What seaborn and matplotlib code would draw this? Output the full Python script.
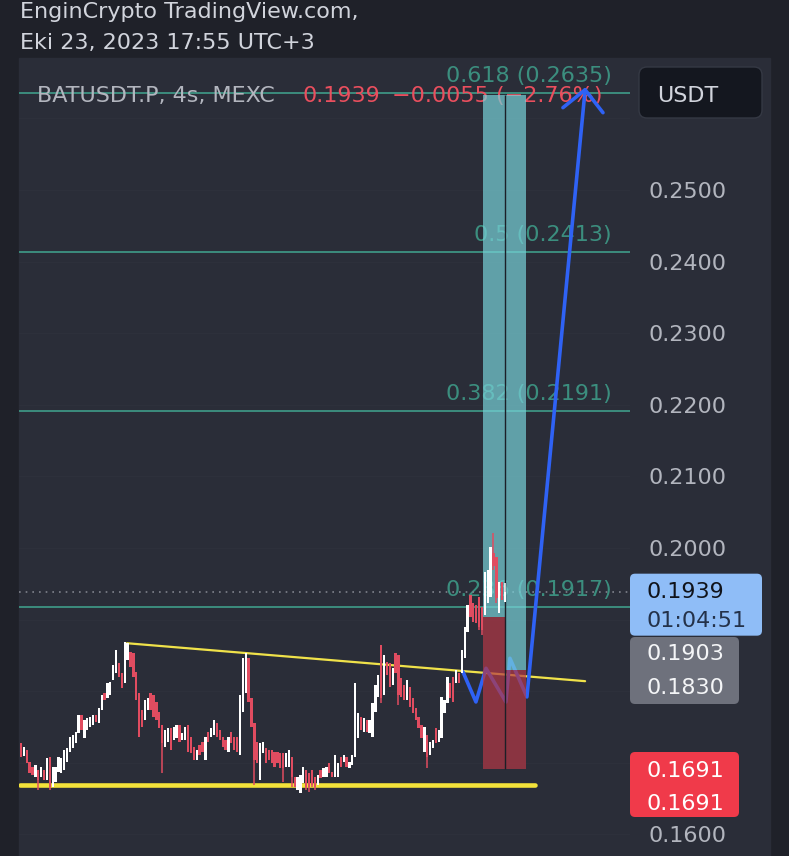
import matplotlib
matplotlib.use("Agg")
import matplotlib.pyplot as plt
from matplotlib.patches import Rectangle, FancyBboxPatch
from matplotlib.transforms import IdentityTransform
import numpy as np
import pandas as pd
import seaborn as sns

W, H, DPI = 789, 856, 100

opens = [0.1728, 0.1710, 0.1718, 0.1701, 0.1694, 0.1680, 0.1690, 0.1680, 0.1690, 0.1676,
         0.1708, 0.1666, 0.1673, 0.1687, 0.1686, 0.1690, 0.1701, 0.1715, 0.1721, 0.1728,
         0.1742, 0.1767, 0.1735, 0.1746, 0.1750, 0.1753, 0.1767, 0.1756, 0.1774, 0.1797,
         0.1791, 0.1795, 0.1816, 0.1825, 0.1839, 0.1825, 0.1811, 0.1844, 0.1855, 0.1853,
         0.1827, 0.1797, 0.1774, 0.1760, 0.1774, 0.1798, 0.1795, 0.1785, 0.1771, 0.1753,
         0.1722, 0.1729, 0.1749, 0.1732, 0.1735, 0.1753, 0.1732, 0.1732, 0.1753, 0.1736,
         0.1722, 0.1704, 0.1725, 0.1729, 0.1704, 0.1743, 0.1736, 0.1739, 0.1756, 0.1746,
         0.1736, 0.1732, 0.1715, 0.1743, 0.1736, 0.1736, 0.1711, 0.1771, 0.1797, 0.1846,
         0.1791, 0.1756, 0.1729, 0.1676, 0.1714, 0.1721, 0.1718, 0.1718, 0.1715, 0.1715,
         0.1714, 0.1714, 0.1694, 0.1694, 0.1708, 0.1680, 0.1662, 0.1658, 0.1672, 0.1690,
         0.1686, 0.1690, 0.1680, 0.1669, 0.1690, 0.1680, 0.1680, 0.1700, 0.1687, 0.1680,
         0.1680, 0.1708, 0.1701, 0.1708, 0.1693, 0.1697, 0.1708, 0.1735, 0.1764, 0.1743,
         0.1760, 0.1742, 0.1736, 0.1771, 0.1792, 0.1865, 0.1795, 0.1841, 0.1839, 0.1809,
         0.1853, 0.1851, 0.1818, 0.1809, 0.1788, 0.1806, 0.1791, 0.1777, 0.1764, 0.1753,
         0.1715, 0.1739, 0.1711, 0.1721, 0.1749, 0.1729, 0.1735, 0.1770, 0.1783, 0.1811,
         0.1820, 0.1811, 0.1825, 0.1825, 0.1846, 0.1883, 0.1934, 0.1923, 0.1920, 0.1932,
         0.1918, 0.1906, 0.1923, 0.1932, 0.1993, 0.1987, 0.1909, 0.1953, 0.1925]
highs = [0.1728, 0.1722, 0.1718, 0.1701, 0.1694, 0.1697, 0.1690, 0.1694, 0.1690, 0.1707,
         0.1708, 0.1694, 0.1694, 0.1708, 0.1707, 0.1718, 0.1721, 0.1736, 0.1739, 0.1743,
         0.1767, 0.1767, 0.1760, 0.1763, 0.1764, 0.1767, 0.1767, 0.1777, 0.1795, 0.1797,
         0.1811, 0.1813, 0.1837, 0.1858, 0.1839, 0.1825, 0.1869, 0.1867, 0.1855, 0.1853,
         0.1827, 0.1797, 0.1774, 0.1788, 0.1791, 0.1798, 0.1795, 0.1785, 0.1771, 0.1753,
         0.1746, 0.1749, 0.1749, 0.1750, 0.1753, 0.1753, 0.1742, 0.1750, 0.1753, 0.1736,
         0.1722, 0.1718, 0.1725, 0.1729, 0.1736, 0.1743, 0.1749, 0.1760, 0.1756, 0.1746,
         0.1736, 0.1732, 0.1736, 0.1743, 0.1736, 0.1736, 0.1795, 0.1846, 0.1853, 0.1846,
         0.1791, 0.1756, 0.1729, 0.1728, 0.1729, 0.1721, 0.1718, 0.1718, 0.1715, 0.1715,
         0.1714, 0.1714, 0.1714, 0.1718, 0.1708, 0.1680, 0.1680, 0.1683, 0.1694, 0.1690,
         0.1686, 0.1690, 0.1680, 0.1683, 0.1690, 0.1693, 0.1694, 0.1700, 0.1687, 0.1711,
         0.1700, 0.1708, 0.1711, 0.1708, 0.1701, 0.1711, 0.1811, 0.1770, 0.1764, 0.1763,
         0.1760, 0.1760, 0.1783, 0.1809, 0.1823, 0.1865, 0.1851, 0.1841, 0.1839, 0.1832,
         0.1853, 0.1851, 0.1818, 0.1809, 0.1816, 0.1806, 0.1791, 0.1777, 0.1764, 0.1753,
         0.1750, 0.1739, 0.1729, 0.1732, 0.1749, 0.1746, 0.1792, 0.1788, 0.1820, 0.1811,
         0.1820, 0.1830, 0.1825, 0.1858, 0.1890, 0.1920, 0.1934, 0.1923, 0.1920, 0.1932,
         0.1918, 0.1966, 0.1969, 0.2001, 0.2021, 0.1987, 0.1953, 0.1953, 0.1951]
lows = [0.1708, 0.1710, 0.1700, 0.1686, 0.1683, 0.1680, 0.1662, 0.1680, 0.1676, 0.1676,
        0.1662, 0.1666, 0.1673, 0.1687, 0.1686, 0.1690, 0.1701, 0.1715, 0.1721, 0.1728,
        0.1742, 0.1746, 0.1735, 0.1746, 0.1750, 0.1753, 0.1757, 0.1756, 0.1774, 0.1788,
        0.1791, 0.1795, 0.1816, 0.1825, 0.1820, 0.1804, 0.1811, 0.1844, 0.1834, 0.1820,
        0.1788, 0.1736, 0.1750, 0.1760, 0.1774, 0.1774, 0.1764, 0.1760, 0.1749, 0.1686,
        0.1722, 0.1729, 0.1718, 0.1732, 0.1735, 0.1729, 0.1732, 0.1732, 0.1715, 0.1714,
        0.1704, 0.1704, 0.1711, 0.1715, 0.1704, 0.1729, 0.1736, 0.1739, 0.1736, 0.1732,
        0.1722, 0.1718, 0.1715, 0.1728, 0.1718, 0.1715, 0.1711, 0.1771, 0.1797, 0.1785,
        0.1750, 0.1669, 0.1700, 0.1676, 0.1714, 0.1700, 0.1704, 0.1700, 0.1694, 0.1700,
        0.1693, 0.1673, 0.1694, 0.1694, 0.1666, 0.1666, 0.1662, 0.1658, 0.1672, 0.1662,
        0.1659, 0.1666, 0.1662, 0.1669, 0.1679, 0.1680, 0.1680, 0.1686, 0.1680, 0.1680,
        0.1680, 0.1694, 0.1701, 0.1694, 0.1693, 0.1697, 0.1708, 0.1735, 0.1746, 0.1743,
        0.1743, 0.1742, 0.1736, 0.1771, 0.1792, 0.1783, 0.1795, 0.1823, 0.1806, 0.1809,
        0.1825, 0.1781, 0.1792, 0.1788, 0.1788, 0.1778, 0.1770, 0.1760, 0.1749, 0.1735,
        0.1715, 0.1693, 0.1711, 0.1721, 0.1728, 0.1729, 0.1735, 0.1770, 0.1783, 0.1791,
        0.1785, 0.1811, 0.1811, 0.1825, 0.1846, 0.1883, 0.1904, 0.1897, 0.1895, 0.1885,
        0.1879, 0.1906, 0.1923, 0.1932, 0.1969, 0.1923, 0.1909, 0.1927, 0.1925]
closes = [0.1708, 0.1722, 0.1700, 0.1686, 0.1683, 0.1697, 0.1676, 0.1694, 0.1676, 0.1707,
          0.1666, 0.1694, 0.1694, 0.1708, 0.1707, 0.1718, 0.1721, 0.1736, 0.1739, 0.1743,
          0.1767, 0.1746, 0.1760, 0.1763, 0.1764, 0.1767, 0.1757, 0.1777, 0.1795, 0.1788,
          0.1811, 0.1813, 0.1837, 0.1858, 0.1820, 0.1804, 0.1869, 0.1867, 0.1834, 0.1820,
          0.1788, 0.1736, 0.1750, 0.1788, 0.1791, 0.1774, 0.1764, 0.1760, 0.1749, 0.1728,
          0.1746, 0.1749, 0.1718, 0.1750, 0.1753, 0.1729, 0.1742, 0.1750, 0.1715, 0.1714,
          0.1704, 0.1718, 0.1711, 0.1715, 0.1736, 0.1729, 0.1749, 0.1760, 0.1736, 0.1732,
          0.1722, 0.1718, 0.1736, 0.1728, 0.1718, 0.1715, 0.1795, 0.1846, 0.1853, 0.1785,
          0.1750, 0.1704, 0.1700, 0.1728, 0.1729, 0.1700, 0.1704, 0.1700, 0.1694, 0.1700,
          0.1693, 0.1693, 0.1714, 0.1718, 0.1680, 0.1666, 0.1680, 0.1683, 0.1694, 0.1666,
          0.1666, 0.1669, 0.1666, 0.1683, 0.1679, 0.1693, 0.1694, 0.1686, 0.1680, 0.1711,
          0.1700, 0.1694, 0.1711, 0.1694, 0.1701, 0.1711, 0.1811, 0.1770, 0.1746, 0.1763,
          0.1743, 0.1760, 0.1783, 0.1809, 0.1823, 0.1790, 0.1851, 0.1823, 0.1806, 0.1832,
          0.1825, 0.1795, 0.1792, 0.1788, 0.1816, 0.1778, 0.1770, 0.1760, 0.1749, 0.1735,
          0.1750, 0.1708, 0.1729, 0.1732, 0.1728, 0.1746, 0.1792, 0.1788, 0.1820, 0.1791,
          0.1785, 0.1830, 0.1811, 0.1858, 0.1890, 0.1920, 0.1904, 0.1897, 0.1895, 0.1890,
          0.1885, 0.1966, 0.1969, 0.2001, 0.1975, 0.1930, 0.1953, 0.1927, 0.1939]

##### Niveaux de Fibonacci
fib_ratios = ["0.236", "0.382", "0.5", "0.618"]
fib_prices = [0.1917, 0.2191, 0.2413, 0.2635]

##### Echelle de prix
price_ticks = [0.2500, 0.2400, 0.2300, 0.2200, 0.2100, 0.2000, 0.1600]
grid_prices = [0.26, 0.25, 0.24, 0.23, 0.22, 0.21, 0.20, 0.19, 0.18, 0.17, 0.16]
last_price = 0.1939
countdown = "01:04:51"
entry_labels = ["0.1903", "0.1830"]
stop_labels = ["0.1691", "0.1691"]

##### Positions longues (index de bougie)
pos_start = [160.4, 168.0]
pos_end = [168.0, 175.3]
pos_entry = [0.1903, 0.1830]
pos_stop = [0.1691, 0.1691]
pos_target = [0.2633, 0.2633]

##### Dessins : support, resistance, scenario bleu
support_idx = [-0.35, 178.4]
support_price = [0.1669, 0.1669]
resist_idx = [36.8, 195.8]
resist_price = [0.1867, 0.1814]
path_idx = [153.4, 157.9, 161.4, 168.3, 169.7, 175.6, 195.8]
path_price = [0.1827, 0.1785, 0.1832, 0.1785, 0.1846, 0.1792, 0.2640]
head_idx = [188.1, 195.8, 202.0]
head_price = [0.2615, 0.2640, 0.2608]

# couleurs
OUTER = "#1f2129"
PANEL = "#2a2d38"
GRID = "#2d303b"
TXT = "#b2b5be"
HEAD = "#d1d4dc"
FIB = "#3d9483"
RED_TXT = "#ea4f5e"
UP = "#ffffff"
DOWN = "#e04c60"

sns.set_style("dark")
plt.rcParams["font.family"] = ["DejaVu Sans"]
FS = 16

df = pd.DataFrame({"o": opens, "h": highs, "l": lows, "c": closes})
df["i"] = np.arange(len(df))
df["up"] = df["c"] >= df["o"]

fig = plt.figure(figsize=(W / DPI, H / DPI), dpi=DPI)
fig.patch.set_facecolor(OUTER)
fig.add_artist(Rectangle((19, 0), 770 - 19, H - 58, transform=IdentityTransform(),
                         color=PANEL, zorder=-5))

ax = fig.add_axes([19 / W, 0, (630 - 19) / W, (H - 58) / H])
ax.set_facecolor("none")
ax.set_zorder(1)

# grille discrete
for g in grid_prices:
    ax.axhline(g, color=GRID, lw=0.9, zorder=0)

# fibonacci
for r, p in zip(fib_ratios, fib_prices):
    ax.axhline(p, color=FIB, lw=1.3, zorder=1)
    ax.annotate(f"{r} ({p:.4f})", xy=(612, p), xycoords=("figure pixels", "data"),
                xytext=(0, 11), textcoords="offset pixels", ha="right", va="baseline",
                color=FIB, fontsize=FS, alpha=0.95, zorder=1, annotation_clip=False)

# ligne du dernier prix (pointillés)
ax.axhline(last_price, color="#80838d", lw=1.2, ls=(0, (1, 3)), zorder=1)

# support / resistance
sns.lineplot(x=support_idx, y=support_price, ax=ax, color="#f3e23a", linewidth=3.3,
             sort=False, estimator=None, zorder=2, solid_capstyle="round")
sns.lineplot(x=resist_idx, y=resist_price, ax=ax, color="#f0e24a", linewidth=1.6,
             sort=False, estimator=None, zorder=2, solid_capstyle="round")

# scenario haussier
sns.lineplot(x=path_idx, y=path_price, ax=ax, color="#2f62f5", linewidth=2.6,
             sort=False, estimator=None, zorder=3, solid_capstyle="round",
             solid_joinstyle="round")
sns.lineplot(x=head_idx, y=head_price, ax=ax, color="#2f62f5", linewidth=2.6,
             sort=False, estimator=None, zorder=3, solid_capstyle="round",
             solid_joinstyle="round")

# positions longues
for x0, x1, e, s, t in zip(pos_start, pos_end, pos_entry, pos_stop, pos_target):
    ax.add_patch(Rectangle((x0, e), x1 - x0, t - e, facecolor="#78d2d9", alpha=0.7,
                           lw=0, zorder=4))
    ax.add_patch(Rectangle((x0, s), x1 - x0, e - s, facecolor="#b43745", alpha=0.7,
                           lw=0, zorder=4))
ax.vlines(pos_end[0], pos_stop[0], pos_target[0], color="#1c1f27", lw=1, zorder=4.5)

# bougies
up = df[df["up"]]
dn = df[~df["up"]]
ax.vlines(up["i"], up["l"], up["h"], color=UP, lw=1.1, zorder=6)
ax.bar(up["i"], up["c"] - up["o"], bottom=up["o"], width=0.8, color=UP, lw=0, zorder=7)
ax.vlines(dn["i"], dn["l"], dn["h"], color=DOWN, lw=1.1, zorder=6)
ax.bar(dn["i"], dn["o"] - dn["c"], bottom=dn["c"], width=0.8, color=DOWN, lw=0, zorder=7)

ax.set_xlim(-0.694, 211.38)
ax.set_ylim(0.156983, 0.268436)
ax.axis("off")


def ypx(p):
    # position verticale (pixels depuis le haut) d'un prix
    return H - ax.transData.transform((0, p))[1]


def fpx(x, y):
    return x / W, 1 - y / H


def badge(x0, y0, x1, y1, color, z=5):
    fig.add_artist(FancyBboxPatch((x0, H - y1), x1 - x0, y1 - y0,
                                  boxstyle="round,pad=0,rounding_size=5",
                                  transform=IdentityTransform(), facecolor=color,
                                  edgecolor="none", zorder=z))


# en-tete
fig.text(*fpx(20, 18), "EnginCrypto TradingView.com,", color=HEAD, fontsize=FS, va="baseline")
fig.text(*fpx(20, 49), "Eki 23, 2023 17:55 UTC+3", color=HEAD, fontsize=FS, va="baseline")

# legende du symbole (sous le dessin bleu)
ax.annotate("BATUSDT.P, 4s, MEXC", xy=(37, H - 102), xycoords="figure pixels",
            va="baseline", color=TXT, fontsize=FS, zorder=1, annotation_clip=False)
ax.annotate(f"{last_price:.4f}", xy=(302, H - 102), xycoords="figure pixels",
            va="baseline", color=RED_TXT, fontsize=FS, zorder=1, annotation_clip=False)
ax.annotate("\u22120.0055 (\u22122.76%)", xy=(392, H - 102), xycoords="figure pixels",
            va="baseline", color=RED_TXT, fontsize=FS, zorder=1, annotation_clip=False)

# bouton USDT
fig.add_artist(FancyBboxPatch((639, H - 118), 123, 51, boxstyle="round,pad=0,rounding_size=8",
                              transform=IdentityTransform(), facecolor="#14171f",
                              edgecolor="#353944", lw=1, zorder=5))
fig.text(*fpx(657, 102), "USDT", color=HEAD, fontsize=FS, va="baseline", zorder=6)

# graduations de prix
for p in price_ticks:
    fig.text(*fpx(648, ypx(p) + 8), f"{p:.4f}", color=TXT, fontsize=FS, va="baseline")

# etiquettes
yl = ypx(last_price)
badge(630, yl - 18, 762, yl + 44, "#8fbdf7")
fig.text(*fpx(647, yl + 6), f"{last_price:.4f}", color="#10131a", fontsize=FS, va="baseline", zorder=6)
fig.text(*fpx(647, yl + 35), countdown, color="#24324a", fontsize=FS, va="baseline", zorder=6)

badge(630, 637, 739, 704, "#6e717c")
fig.text(*fpx(647, 660), entry_labels[0], color="#f4f5f7", fontsize=FS, va="baseline", zorder=6)
fig.text(*fpx(647, 694), entry_labels[1], color="#f4f5f7", fontsize=FS, va="baseline", zorder=6)

badge(630, 752, 739, 817, "#f03a4a")
fig.text(*fpx(647, 777), stop_labels[0], color="#ffffff", fontsize=FS, va="baseline", zorder=6)
fig.text(*fpx(647, 810), stop_labels[1], color="#ffffff", fontsize=FS, va="baseline", zorder=6)

fig.savefig("out.png", dpi=DPI, facecolor=fig.get_facecolor())
